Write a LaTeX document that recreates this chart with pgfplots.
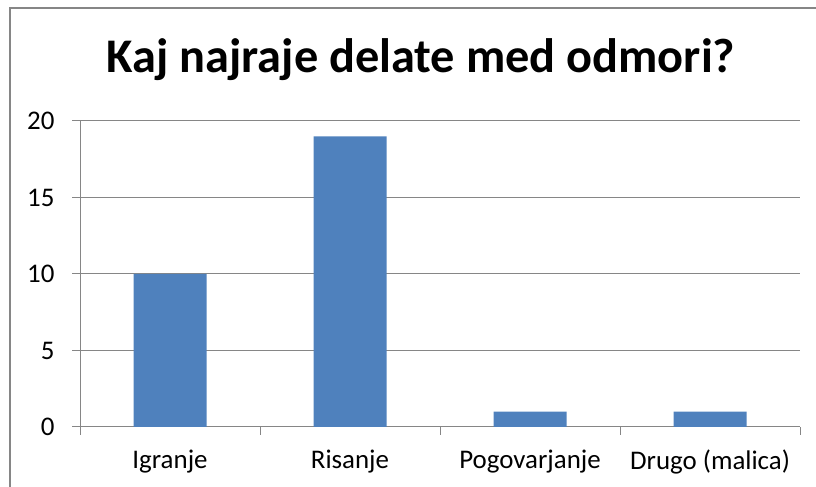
\documentclass[border=0pt]{standalone}
\usepackage{pgfplots}
\pgfplotsset{compat=1.18}
\usepackage{fontspec}
\setmainfont{Carlito}
\definecolor{barblue}{HTML}{4F81BD}
\definecolor{gridgray}{HTML}{868686}
\begin{document}
\begin{tikzpicture}[x=1bp,y=1bp]
\useasboundingbox (0,0) rectangle (816,487);
\draw[gridgray, line width=1.6bp] (10,-20) -- (10,479) -- (840,479);
\node[font=\bfseries\fontsize{48.5}{56}\selectfont, anchor=base] at (421,414) {Kaj najraje delate med odmori?};
\begin{axis}[
  at={(80bp,60bp)}, anchor=south west,
  scale only axis, width=720bp, height=306bp,
  xmin=-0.5, xmax=3.5, ymin=0, ymax=20,
  ytick={0,5,10,15,20},
  xtick={-0.5,0.5,1.5,2.5,3.5}, xticklabels={},
  extra x ticks={0,1,2,3},
  extra x tick labels={Igranje,Risanje,Pogovarjanje,Drugo (malica)},
  extra x tick style={tick style={draw=none}, xticklabel style={yshift=-11bp}},
  ymajorgrids, grid style={gridgray, line width=1bp},
  axis x line*=bottom, axis y line*=left,
  axis line style={gridgray, line width=1bp, -},
  tick style={gridgray, line width=1bp},
  tick align=outside, major tick length=8bp,
  ticklabel style={font=\fontsize{27}{32}\selectfont, text=black},
  yticklabel style={xshift=-14bp},
  /pgf/number format/assume math mode=true,
]
\addplot[ybar, bar width=73bp, fill=barblue, draw=none] coordinates {(0,10) (1,19) (2,1) (3,1)};
\end{axis}
\end{tikzpicture}
\end{document}
